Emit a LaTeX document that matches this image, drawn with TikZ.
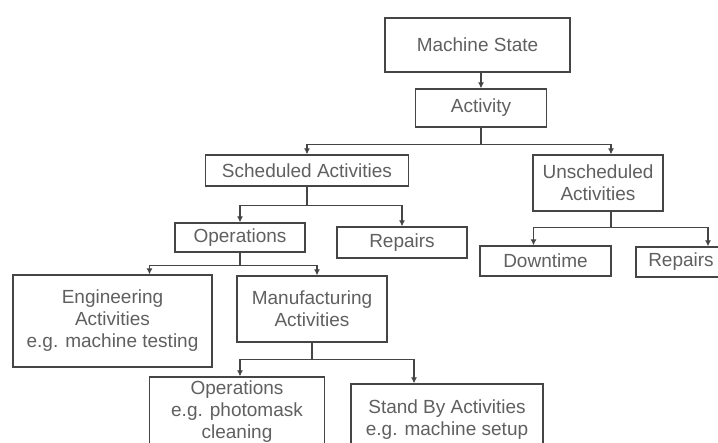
\documentclass[tikz,border=0pt]{standalone}
\usepackage{fontspec}
\setmainfont{Liberation Sans}
\usetikzlibrary{arrows.meta}
\definecolor{linegray}{HTML}{454545}
\definecolor{textgray}{HTML}{606060}
\tikzset{
	box/.style={rectangle, draw=linegray, line width=1.2pt, fill=white, inner sep=0pt,
		align=center, text=textgray, font=\fontsize{19}{22}\selectfont},
	conn/.style={draw=linegray, line width=1.3pt, -{Latex[length=6pt,width=6pt]}}
}
\begin{document}
\begin{tikzpicture}[x=1pt,y=-1pt]
	\useasboundingbox (0,0) rectangle (718,443);
	\clip (0,0) rectangle (718,443);
	\node (ms)      at (477.5,  45)	[box, minimum width=185, minimum height=54]	{Machine State};
	\node (act)     at (481,   108)	[box, minimum width=131, minimum height=38]	{Activity};
	\node (sched)   at (307,   170.5)	[box, minimum width=203, minimum height=31]	{Scheduled Activities};
	\node (unsched) at (598,   183)	[box, minimum width=130, minimum height=56]	{Unscheduled\\Activities};
	\node (ops)     at (240,   237.5)	[box, minimum width=130, minimum height=29]	{Operations};
	\node (rep1)    at (402,   242.5)	[box, minimum width=130, minimum height=31]	{Repairs};
	\node (down)    at (545.5, 261)	[box, minimum width=131, minimum height=30]	{Downtime};
	\node (rep2)    at (681,   262)	[box, minimum width=90,  minimum height=30]	{Repairs};
	\node (eng)     at (112.5, 321)	[box, minimum width=199, minimum height=92]	{Engineering\\Activities\\e.g. machine testing};
	\node (manu)    at (312,   309)	[box, minimum width=150, minimum height=66]	{Manufacturing\\Activities};
	\node (ops2)    at (237,   412)	[box, minimum width=175, minimum height=70]	{Operations\\e.g. photomask\\cleaning};
	\node (standby) at (447,   419.5)	[box, minimum width=192, minimum height=71]	{Stand By Activities\\e.g. machine setup};
	\draw[conn] ([xshift=3.5pt]ms.south) -- (act.north);
	\draw[conn] (act.south) -- ++(0,17) -| (sched.north);
	\draw[conn] (act.south) -- ++(0,17) -| ([xshift=13pt]unsched.north);
	\draw[conn] (sched.south) -- ++(0,19) -| (ops.north);
	\draw[conn] (sched.south) -- ++(0,19) -| (rep1.north);
	\draw[conn] ([xshift=13pt]unsched.south) -- ++(0,16) -| ([xshift=-12pt]down.north);
	\draw[conn] ([xshift=13pt]unsched.south) -- ++(0,16) -| ([xshift=27pt]rep2.north);
	\draw[conn] (ops.south) -- ++(0,13) -| ([xshift=37pt]eng.north);
	\draw[conn] (ops.south) -- ++(0,13) -| ([xshift=5pt]manu.north);
	\draw[conn] (manu.south) -- ++(0,17) -| ([xshift=3pt]ops2.north);
	\draw[conn] (manu.south) -- ++(0,17) -| ([xshift=-33pt]standby.north);
\end{tikzpicture}
\end{document}
